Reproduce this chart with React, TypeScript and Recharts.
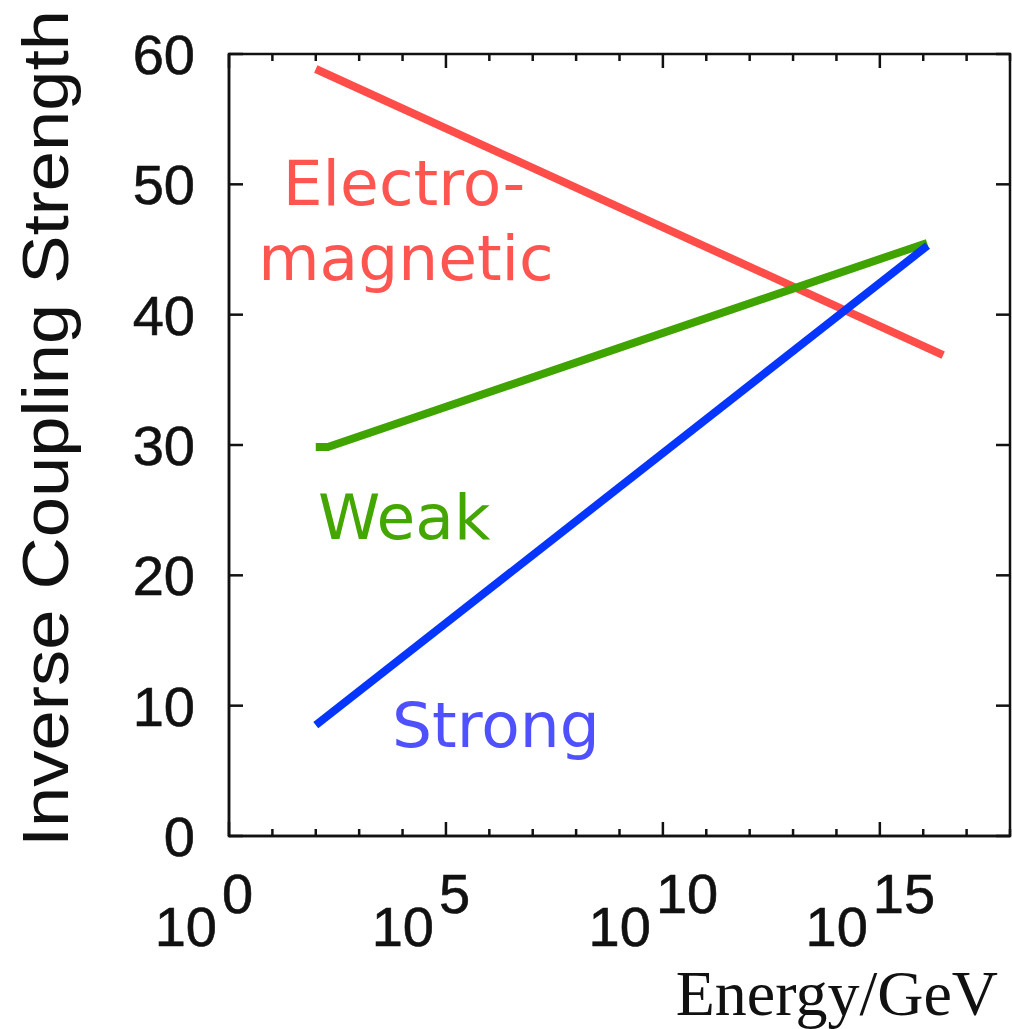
import { LineChart, Line, XAxis, YAxis, ReferenceArea } from "recharts";

// log10(E / GeV) tick positions, one per decade
const LOG_TICKS = [0, 1, 2, 3, 4, 5, 6, 7, 8, 9, 10, 11, 12, 13, 14, 15, 16, 17, 18];
const COUPLING_TICKS = [0, 10, 20, 30, 40, 50, 60];

const EM_LOG_E = [2, 16.46];
const EM_VALUES = [58.85, 36.9];
const WEAK_LOG_E = [2, 2.28, 16.09];
const WEAK_VALUES = [29.85, 29.85, 45.5];
const STRONG_LOG_E = [2, 16.1];
const STRONG_VALUES = [8.5, 45.3];

const toPoints = (xs: number[], ys: number[]) =>
  xs.map((x, i) => ({ logE: x, value: ys[i] }));

const emData = toPoints(EM_LOG_E, EM_VALUES);
const weakData = toPoints(WEAK_LOG_E, WEAK_VALUES);
const strongData = toPoints(STRONG_LOG_E, STRONG_VALUES);

const W = 1012;
const H = 1029;
const MARGIN = { top: 54, right: 2, bottom: 0, left: 0 };
const Y_AXIS_W = 229;
const X_AXIS_H = 193;
const PLOT_W = W - MARGIN.right - MARGIN.left - Y_AXIS_W;
const PLOT_H = H - MARGIN.top - MARGIN.bottom - X_AXIS_H;

const INK = "#111";
const SANS = "'Liberation Sans', Arial, Helvetica, sans-serif";
const LABEL_FONT = "'DejaVu Sans', Verdana, sans-serif";
const TICK_FONT = 56;

function BottomTick(props: any) {
  const { x, y, payload } = props;
  const major = payload.value % 5 === 0;
  const len = major ? 14 : 7;
  const top = y - PLOT_H;
  return (
    <g>
      <line x1={x} x2={x} y1={y} y2={y - len} stroke={INK} strokeWidth={2.5} />
      <line x1={x} x2={x} y1={top} y2={top + len} stroke={INK} strokeWidth={2.5} />
      {major && (
        <>
          <text x={x - 12} y={y + 110} textAnchor="end" fontSize={TICK_FONT} fontFamily={SANS} fill={INK} stroke={INK} strokeWidth={0.6}>
            10
          </text>
          <text x={x - 7} y={y + 77} textAnchor="start" fontSize={TICK_FONT} fontFamily={SANS} fill={INK} stroke={INK} strokeWidth={0.6}>
            {payload.value}
          </text>
        </>
      )}
    </g>
  );
}

function LeftTick(props: any) {
  const { x, y, payload } = props;
  const right = x + PLOT_W;
  return (
    <g>
      <line x1={x} x2={x + 14} y1={y} y2={y} stroke={INK} strokeWidth={2.5} />
      <line x1={right} x2={right - 14} y1={y} y2={y} stroke={INK} strokeWidth={2.5} />
      <text x={x - 34} y={y + 20} textAnchor="end" fontSize={TICK_FONT} fontFamily={SANS} fill={INK} stroke={INK} strokeWidth={0.6}>
        {payload.value}
      </text>
    </g>
  );
}

export default function App() {
  const axisLine = { stroke: INK, strokeWidth: 2.5 };
  return (
    <div style={{ position: "absolute", left: 0, top: 0, background: "#fff" }}>
      <LineChart width={W} height={H} margin={MARGIN}>
        <XAxis
          dataKey="logE"
          type="number"
          domain={[0, 18]}
          ticks={LOG_TICKS}
          interval={0}
          height={X_AXIS_H}
          tickSize={0}
          tickMargin={0}
          tickLine={false}
          axisLine={axisLine}
          tick={BottomTick}
        />
        <YAxis
          type="number"
          domain={[0, 60]}
          ticks={COUPLING_TICKS}
          interval={0}
          width={Y_AXIS_W}
          tickSize={0}
          tickMargin={0}
          tickLine={false}
          axisLine={axisLine}
          tick={LeftTick}
        />
        <ReferenceArea x1={0} x2={18} y1={0} y2={60} fill="none" stroke={INK} strokeWidth={2.5} ifOverflow="visible" />
        <Line data={emData} dataKey="value" stroke="#ff4d4a" strokeWidth={8} dot={false} isAnimationActive={false} />
        <Line data={weakData} dataKey="value" stroke="#3fa300" strokeWidth={8} dot={false} strokeLinejoin="miter" isAnimationActive={false} />
        <Line data={strongData} dataKey="value" stroke="#0535ff" strokeWidth={8} dot={false} isAnimationActive={false} />

        <text x={404} y={205} textAnchor="middle" fontSize={63} fontFamily={LABEL_FONT} fill="#ff5550">
          Electro-
        </text>
        <text x={406} y={280} textAnchor="middle" fontSize={63} fontFamily={LABEL_FONT} fill="#ff5550">
          magnetic
        </text>
        <text x={318} y={539} fontSize={63} fontFamily={LABEL_FONT} fill="#44a600">
          Weak
        </text>
        <text x={392} y={747} fontSize={63} fontFamily={LABEL_FONT} fill="#4f50ff">
          Strong
        </text>

        <text
          x={68}
          y={847}
          transform="rotate(-90, 68, 847)"
          fontSize={65}
          fontFamily={SANS}
          fill={INK}
          textLength={837}
          lengthAdjust="spacingAndGlyphs"
        >
          Inverse Coupling Strength
        </text>
        <text x={998} y={1015} textAnchor="end" fontSize={64} fontFamily="'Liberation Serif', 'Times New Roman', serif" fill={INK}>
          Energy/GeV
        </text>
      </LineChart>
    </div>
  );
}
